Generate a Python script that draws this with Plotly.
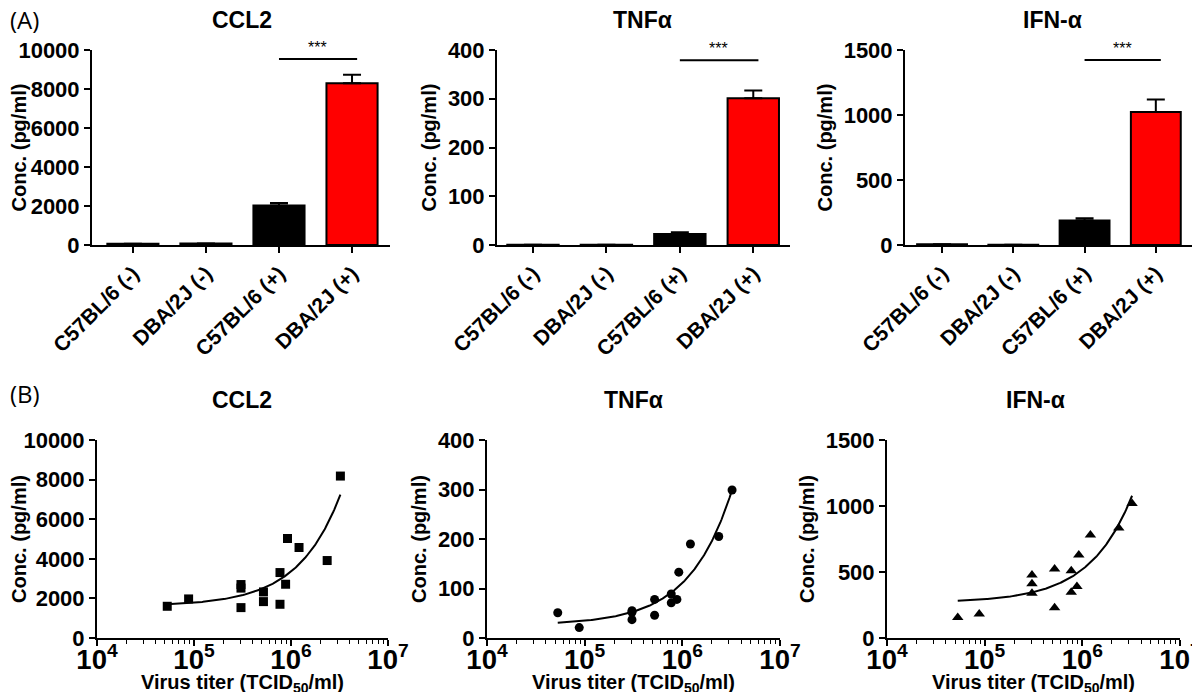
import numpy as np
import plotly.graph_objects as go

# ---------------- data ----------------
groups = ["C57BL/6 (-)", "DBA/2J (-)", "C57BL/6 (+)", "DBA/2J (+)"]

ccl2_mean = [60, 80, 2020, 8290]
ccl2_err = [0, 0, 135, 440]
tnf_mean = [0.6, 0.4, 22.6, 301]
tnf_err = [0, 0, 3.4, 16]
ifn_mean = [6, 1, 188, 1024]
ifn_err = [0, 0, 18, 95]

sig_ccl2 = 9540
sig_tnf = 379
sig_ifn = 1423

titer = [5.3e4, 8.8e4, 3.05e5, 3.05e5, 3.05e5, 5.2e5, 5.2e5, 7.7e5, 7.7e5,
         8.8e5, 9.2e5, 1.21e6, 2.36e6, 3.23e6]
ccl2_pts = [1602, 1973, 2700, 2520, 1535, 2327, 1838, 3305, 1703, 2715, 5025, 4570, 3912, 8179]
tnf_pts = [51, 21, 55, 52, 37, 78, 46, 89, 71, 78, 133, 190, 205, 299]
ifn_pts = [156, 181, 477, 411, 339, 523, 230, 510, 347, 390, 628, 781, 834, 1018]

# ---------------- style ----------------
FONT = "Liberation Sans, Arial, sans-serif"
bar_colors = ["black", "black", "black", "#FF0000"]
OFF = 8                      # page body margin
W, H = 1200 - 2 * OFF, 700 - 2 * OFF

def px_x(v):
    return min(max((v - OFF) / W, 0), 1)

def px_y(v):
    return min(max(1 - (v - OFF) / H, 0), 1)

fig = go.Figure()

bar_sets = [(ccl2_mean, ccl2_err, "x", "y"),
            (tnf_mean, tnf_err, "x2", "y2"),
            (ifn_mean, ifn_err, "x3", "y3")]
for mean, err, xa, ya in bar_sets:
    fig.add_trace(go.Bar(
        x=list(range(len(groups))), y=mean, xaxis=xa, yaxis=ya, width=0.7,
        marker=dict(color=bar_colors, line=dict(color="black", width=2)),
        error_y=dict(type="data", array=err, arrayminus=[0] * len(err), symmetric=False,
                     color="black", thickness=2, width=9),
        showlegend=False, hoverinfo="skip"))

scatter_sets = [(ccl2_pts, "square", 9, "x4", "y4"),
                (tnf_pts, "circle", 9, "x5", "y5"),
                (ifn_pts, "triangle-up", 10, "x6", "y6")]
xs = np.array(titer, dtype=float)
for pts, sym, sz, xa, ya in scatter_sets:
    slope, intercept = np.polyfit(xs, np.array(pts, dtype=float), 1)
    xf = np.logspace(np.log10(xs.min()), np.log10(xs.max()), 200)
    fig.add_trace(go.Scatter(x=xf, y=intercept + slope * xf, mode="lines",
                             line=dict(color="black", width=2), xaxis=xa, yaxis=ya,
                             showlegend=False, hoverinfo="skip"))
    fig.add_trace(go.Scatter(x=titer, y=pts, mode="markers",
                             marker=dict(symbol=sym, size=sz, color="black"),
                             xaxis=xa, yaxis=ya, showlegend=False))

tickfont = dict(family=FONT, size=22, color="black", weight="bold")
titlefont = dict(family=FONT, size=20, color="black", weight="bold")
common = dict(showline=True, linecolor="black", linewidth=2, ticks="outside",
              ticklen=6, tickwidth=2, tickcolor="black", showgrid=False,
              zeroline=False, tickfont=tickfont, automargin=False,
              ticklabeloverflow="allow")

# panel geometry (page pixels)
A_x = [(92, 390, [-0.56, 3.52]), (497, 790, [-0.49, 3.5]), (905, 1200, [-0.52, 3.62])]
A_y = (50, 245)
A_yr = [[0, 10000, 2000], [0, 400, 100], [0, 1500, 500]]
B_x = [(97, 388), (487, 780), (887, 1180)]
B_y = (440, 638)
B_yr = [[0, 10000, 2000], [0, 400, 100], [0, 1500, 500]]

layout = dict(width=W, height=H, margin=dict(l=0, r=0, t=0, b=0),
              plot_bgcolor="white", paper_bgcolor="white")
for i in range(3):
    n = i + 1
    s = "" if n == 1 else str(n)
    x0, x1, xr = A_x[i]
    x1c = min(x1, OFF + W)
    # keep the category scale when the right edge is clipped at the page border
    xr = [xr[0], xr[0] + (xr[1] - xr[0]) * (x1c - x0) / (x1 - x0)]
    layout[f"xaxis{s}"] = dict(
        common, domain=[px_x(x0), px_x(x1c)], range=xr, anchor=f"y{s}",
        tickmode="array", tickvals=list(range(len(groups))), ticktext=groups,
        tickangle=-45, tickfont=dict(tickfont, size=21))
    layout[f"yaxis{s}"] = dict(
        common, domain=[px_y(A_y[1]), px_y(A_y[0])], range=A_yr[i][:2],
        dtick=A_yr[i][2], tickformat="d", anchor=f"x{s}",
        title=dict(text="Conc. (pg/ml)", font=titlefont, standoff=6))
for i in range(3):
    n = i + 4
    x0, x1 = B_x[i]
    layout[f"xaxis{n}"] = dict(
        common, domain=[px_x(x0), px_x(x1)], type="log", range=[4, 7], dtick=1,
        exponentformat="power", anchor=f"y{n}", ticklabelstandoff=-9,
        minor=dict(ticks="outside", ticklen=4, tickwidth=1, tickcolor="black", dtick="D1"))
    layout[f"yaxis{n}"] = dict(
        common, domain=[px_y(B_y[1]), px_y(B_y[0])], range=B_yr[i][:2],
        dtick=B_yr[i][2], tickformat="d", anchor=f"x{n}",
        title=dict(text="Conc. (pg/ml)", font=titlefont, standoff=6))
    fig.add_annotation(xref="paper", yref="paper", x=px_x((x0 + x1) / 2), y=px_y(683),
                       text="Virus titer (TCID<sub>50</sub>/ml)", showarrow=False,
                       xanchor="center", yanchor="middle", font=titlefont)

fig.update_layout(**layout)

# significance bars
for (xa, ya, lvl) in [("x", "y", sig_ccl2), ("x2", "y2", sig_tnf), ("x3", "y3", sig_ifn)]:
    fig.add_shape(type="line", xref=xa, yref=ya, x0=2.0, x1=3.07, y0=lvl, y1=lvl,
                  line=dict(color="black", width=2))
    fig.add_annotation(xref=xa, yref=ya, x=2.53, y=lvl, text="***", showarrow=False,
                       yanchor="bottom", yshift=1, font=dict(family=FONT, size=16, color="black"))

# titles
titles = [("CCL2", 242, 20), ("TNFα", 642, 20), ("IFN-α", 1052, 20),
          ("CCL2", 242, 400), ("TNFα", 633, 400), ("IFN-α", 1035, 400)]
for t, x, y in titles:
    fig.add_annotation(xref="paper", yref="paper", x=px_x(x), y=px_y(y), text=t,
                       showarrow=False, xanchor="center", yanchor="middle",
                       font=dict(family=FONT, size=23, color="black", weight="bold"))
for t, y in [("(A)", 19), ("(B)", 393)]:
    fig.add_annotation(xref="paper", yref="paper", x=0, y=px_y(y), text=t,
                       showarrow=False, xanchor="left", yanchor="middle",
                       font=dict(family="Open Sans, sans-serif", size=24, color="black"))

fig.write_html("out.html")
